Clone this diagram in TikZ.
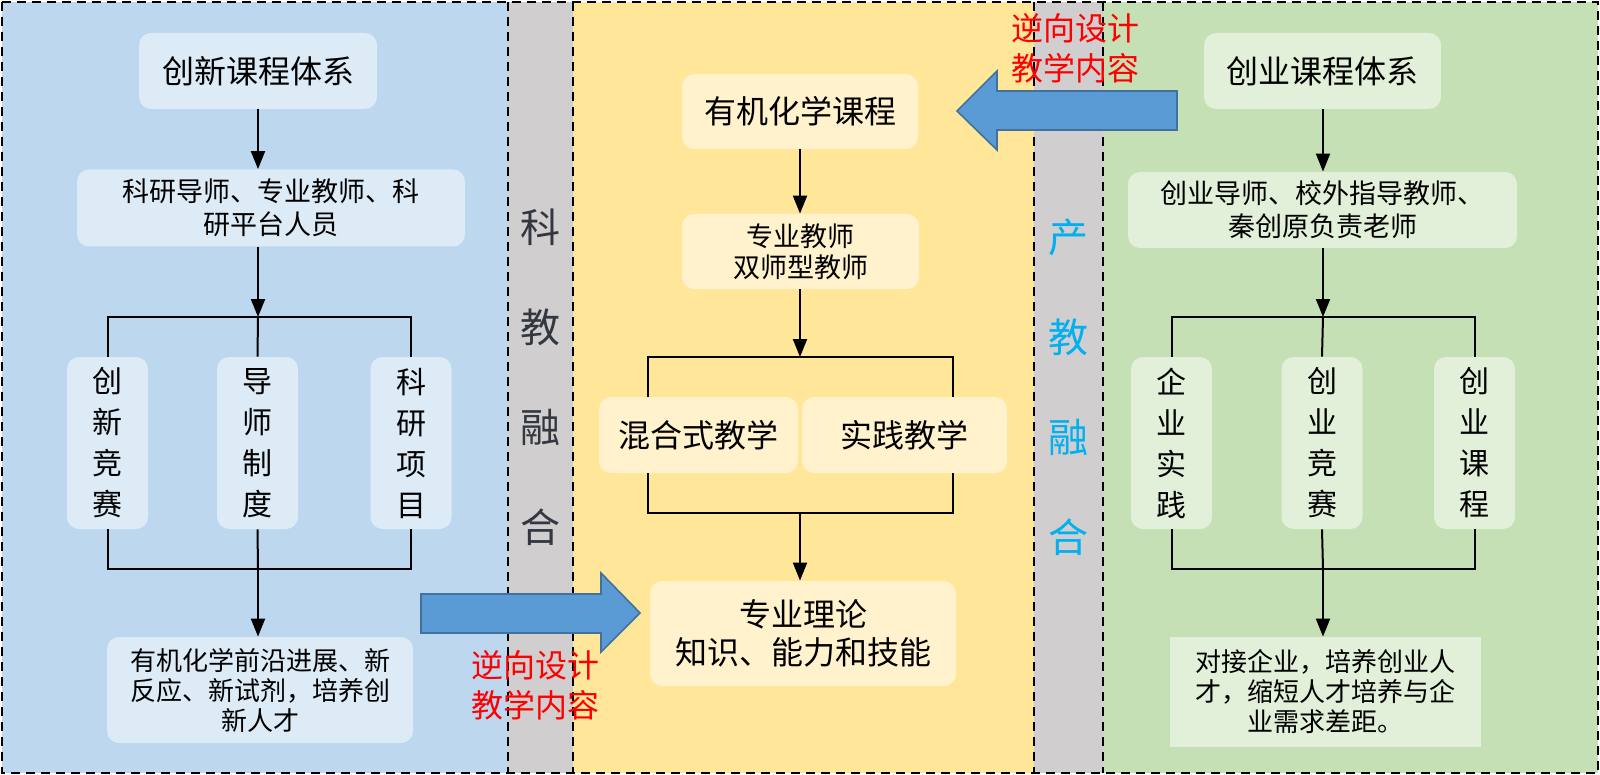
\documentclass[tikz,border=0pt]{standalone}
\usepackage{fontspec}
\setmainfont{Noto Sans CJK SC}
\usetikzlibrary{arrows.meta}

\definecolor{bluebg}{RGB}{189,215,238}
\definecolor{bluebox}{RGB}{221,235,247}
\definecolor{greyband}{RGB}{208,206,206}
\definecolor{yellowbg}{RGB}{255,230,153}
\definecolor{yellowbox}{RGB}{255,242,204}
\definecolor{greenbg}{RGB}{197,224,180}
\definecolor{greenbox}{RGB}{226,240,217}
\definecolor{arrowblue}{RGB}{91,155,213}
\definecolor{arrowedge}{RGB}{65,113,156}
\definecolor{bandtext}{RGB}{51,55,64}
\definecolor{cyantext}{RGB}{0,176,240}

\tikzset{
  box/.style={rounded corners=6pt, align=center, inner sep=0pt},
  title/.style={font=\fontsize{16}{20}\selectfont},
  staff/.style={font=\fontsize{13.5}{16.5}\selectfont},
  upright/.style={font=\fontsize{15}{20.5}\selectfont, minimum width=40.5pt, minimum height=86pt},
  result/.style={font=\fontsize{13}{15}\selectfont},
  arr/.style={-{Triangle[length=9pt,width=7pt]}, line width=1pt},
  fork/.style={line width=1pt},
  divider/.style={dash pattern=on 4.5pt off 3pt, line width=0.8pt},
  bigarrow/.style={fill=arrowblue, draw=arrowedge, line width=0.8pt},
  band/.style={font=\fontsize{20}{50}\selectfont, align=center},
  redtext/.style={text=red, font=\fontsize{16}{20}\selectfont, align=center},
}

\begin{document}
\begin{tikzpicture}[x=0.5pt,y=-0.5pt]

\useasboundingbox (0,0) rectangle (1600,775);
\fill[white] (0,0) rectangle (1600,775);

% Panels
\fill[bluebg] (2,2) rectangle (508,773);
\fill[greyband] (508,2) rectangle (573,773);
\fill[yellowbg] (573,2) rectangle (1034,773);
\fill[greyband] (1034,2) rectangle (1103,773);
\fill[greenbg] (1103,2) rectangle (1598,773);

\draw[divider] (2,2) rectangle (1598,773);
\foreach \x in {508,573,1034,1103}
{
\draw[divider] (\x,2) -- (\x,773);
}

% Bands
\node[band, text=bandtext] (kejiao) at (540.5,377) {科\\教\\融\\合};
\node[band, text=cyantext] (chanjiao) at (1068.5,387) {产\\教\\融\\合};

% Red labels
\node[redtext] (revA) at (535,685) {逆向设计\\教学内容};
\node[redtext] (revB) at (1075,48) {逆向设计\\教学内容};

% Big arrows
\filldraw[bigarrow] (421,594) -- (601,594) -- (601,573) -- (640,613) -- (601,652) -- (601,633) -- (421,633) -- cycle;
\filldraw[bigarrow] (1177,91) -- (997,91) -- (997,71) -- (957,111) -- (997,150) -- (997,130) -- (1177,130) -- cycle;

% Innovation
\node[box, title, fill=bluebox, minimum width=119pt, minimum height=38pt] (inno) at (258,71) {创新课程体系};
\node[box, staff, fill=bluebox, minimum width=194pt, minimum height=38.5pt] (innoT) at (271,208) {科研导师、专业教师、科\\研平台人员};
\node[box, upright, fill=bluebox] (inA) at (107.5,443) {创\\新\\竞\\赛};
\node[box, upright, fill=bluebox] (inB) at (257.5,443) {导\\师\\制\\度};
\node[box, upright, fill=bluebox] (inC) at (411,443) {科\\研\\项\\目};
\node[box, result, fill=bluebox, minimum width=153pt, minimum height=53pt] (innoOut) at (260,690) {有机化学前沿进展、新\\反应、新试剂，培养创\\新人才};

\coordinate (forkA) at (258,317);
\coordinate (joinA) at (258,569);
\draw[arr] (inno.south) -- (inno.south |- innoT.north);
\draw[arr] (innoT.south -| forkA) -- (forkA);
\draw[fork] (inA.north) |- (forkA) -| (inC.north);
\draw[fork] (inB.north) -- (forkA);
\draw[fork] (inA.south) |- (joinA) -| (inC.south);
\draw[fork] (inB.south) -- (joinA);
\draw[arr] (joinA) -- (joinA |- innoOut.north);

% Course
\node[box, title, fill=yellowbox, minimum width=118pt, minimum height=37.5pt] (course) at (800,111.5) {有机化学课程};
\node[box, staff, font=\fontsize{13.5}{15.5}\selectfont, fill=yellowbox, minimum width=118.5pt, minimum height=37.5pt] (courseT) at (800.5,251.5) {专业教师\\双师型教师};
\node[box, title, fill=yellowbox, minimum width=99.5pt, minimum height=38pt] (mix) at (698.5,435) {混合式教学};
\node[box, title, fill=yellowbox, minimum width=102.5pt, minimum height=38pt] (prac) at (904.5,435) {实践教学};
\node[box, title, font=\fontsize{16}{19}\selectfont, fill=yellowbox, minimum width=153pt, minimum height=52.5pt] (theory) at (803,633.5) {专业理论\\知识、能力和技能};

\coordinate (forkB) at (800,357);
\coordinate (forkBl) at (648,357);
\coordinate (forkBr) at (953,357);
\coordinate (joinB) at (800,513);
\coordinate (joinBl) at (648,513);
\coordinate (joinBr) at (953,513);
\draw[arr] (course.south) -- (course.south |- courseT.north);
\draw[arr] (courseT.south -| forkB) -- (forkB);
\draw[fork] (forkBl |- mix.north) -- (forkBl) -- (forkBr) -- (forkBr |- prac.north);
\draw[fork] (joinBl |- mix.south) -- (joinBl) -- (joinBr) -- (joinBr |- prac.south);
\draw[arr] (joinB) -- (joinB |- theory.north);

% Entrepreneurship
\node[box, title, fill=greenbox, minimum width=118.5pt, minimum height=38pt] (entre) at (1322.5,71) {创业课程体系};
\node[box, staff, fill=greenbox, minimum width=194.5pt, minimum height=38pt] (entreT) at (1322.5,210) {创业导师、校外指导教师、\\秦创原负责老师};
\node[box, upright, fill=greenbox] (enA) at (1171.5,443) {企\\业\\实\\践};
\node[box, upright, fill=greenbox] (enB) at (1322,443) {创\\业\\竞\\赛};
\node[box, upright, fill=greenbox] (enC) at (1474.5,443) {创\\业\\课\\程};
\node[result, fill=greenbox, align=center, inner sep=0pt, minimum width=155.5pt, minimum height=55pt] (entreOut) at (1325.5,692) {对接企业，培养创业人\\才，缩短人才培养与企\\业需求差距。};

\coordinate (forkC) at (1323,317);
\coordinate (joinC) at (1323,569);
\draw[arr] (entre.south -| forkC) -- (forkC |- entreT.north);
\draw[arr] (entreT.south -| forkC) -- (forkC);
\draw[fork] (enA.north) |- (forkC) -| (enC.north);
\draw[fork] (enB.north) -- (forkC);
\draw[fork] (enA.south) |- (joinC) -| (enC.south);
\draw[fork] (enB.south) -- (joinC);
\draw[arr] (joinC) -- (joinC |- entreOut.north);

\end{tikzpicture}
\end{document}
